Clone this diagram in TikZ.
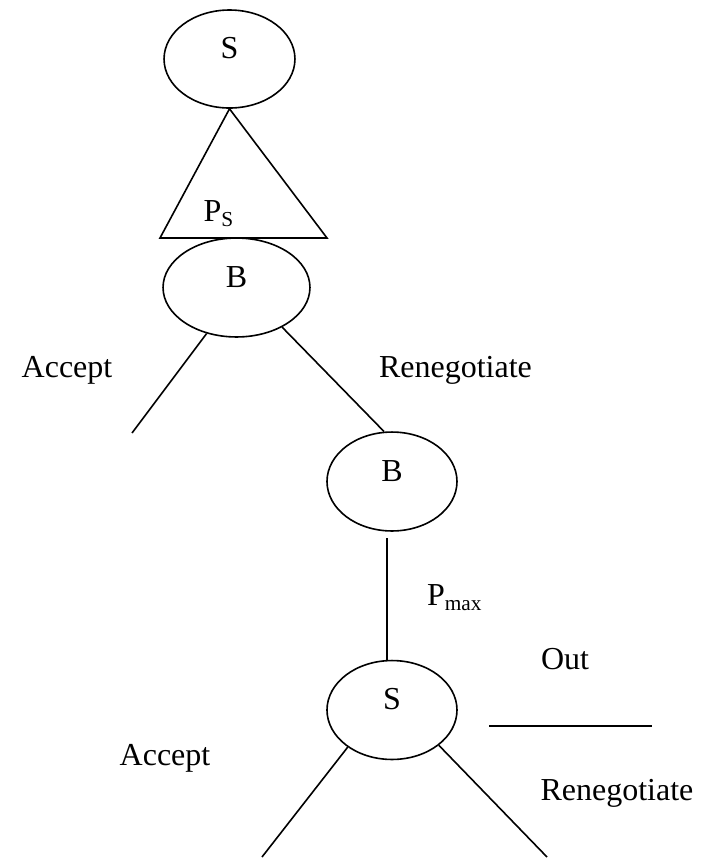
\documentclass[tikz,border=0pt]{standalone}
\usepackage{fontspec}
\setmainfont{Liberation Serif}
\usepackage{tikz}
\usetikzlibrary{shapes.geometric, positioning, calc}

\begin{document}
\begin{tikzpicture}[
    x=0.375pt, y=-0.375pt,
    player/.style={ellipse, draw=black, line width=0.6pt, inner sep=0pt, text depth=8pt, minimum width=48.75pt, minimum height=37.1pt, font=\fontsize{12}{14}\selectfont},
    widebox/.style={player, minimum width=55.1pt},
    lbl/.style={inner sep=0pt, font=\fontsize{12}{14}\selectfont},
    edge/.style={line width=0.6pt, draw=black}
]
    \useasboundingbox (0,0) rectangle (709,866);

    % Nodes
    \node[player, minimum width=49.1pt, minimum height=36.75pt] (seller) at (229.5,59) {S};
    \node[widebox] (buyer) at (236.5,287.5) {B};
    \node[player] (buyertwo) at (392,481.5) {B};
    \node[player] (sellertwo) at (392,710) {S};

    \coordinate (triL) at (160,238);
    \coordinate (triR) at (327,238);
    \coordinate (acceptend) at (132,433);
    \coordinate (outstart) at (489,726);
    \coordinate (outend) at (652,726);
    \coordinate (acceptendtwo) at (262,857);
    \coordinate (renegendtwo) at (547,857);

    % Labels
    \node[lbl] (ps) at (219,214) {P\textsubscript{S}};
    \node[lbl] (accept) at (67,370) {Accept};
    \node[lbl] (reneg) at (455.5,370) {Renegotiate};
    \node[lbl] (pmax) at (455,598) {P\textsubscript{max}};
    \node[lbl] (out) at (565,659) {Out};
    \node[lbl] (accepttwo) at (165,758) {Accept};
    \node[lbl] (renegtwo) at (617,793) {Renegotiate};

    % Connections
    \draw[edge] (seller.south) -- (triL) -- (triR) -- cycle;
    \draw[edge] (buyer.-123) -- (acceptend);
    \draw[edge] (buyer.-41) -- (buyertwo.99);
    \draw[edge, shorten <=2.5pt] (buyertwo.-96) -- (sellertwo.96);
    \draw[edge] (outstart) -- (outend);
    \draw[edge] (sellertwo.-140) -- (acceptendtwo);
    \draw[edge] (sellertwo.-37) -- (renegendtwo);
\end{tikzpicture}
\end{document}
